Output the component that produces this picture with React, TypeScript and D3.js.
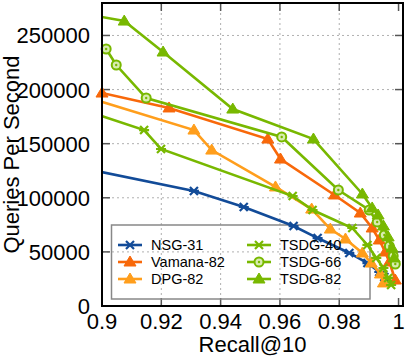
import React from "react";
import * as d3 from "d3";

const xTicks = [0.9, 0.92, 0.94, 0.96, 0.98, 1];
const xTickLabels = ["0.9", "0.92", "0.94", "0.96", "0.98", "1"];
const yTicks = [0, 50000, 100000, 150000, 200000, 250000];

const nsgRecall = [0.895, 0.931, 0.9478, 0.9646, 0.9727, 0.9834, 0.9895, 0.9935, 0.9952];
const nsgQps = [126600, 106300, 91500, 73900, 62800, 49000, 39700, 31400, 26800];

const vamanaRecall = [0.9, 0.9226, 0.9559, 0.9602, 0.9784, 0.9871, 0.9911, 0.9935, 0.9955, 0.9969, 0.9989];
const vamanaQps = [196800, 183000, 154300, 135800, 102600, 85900, 72100, 61000, 49900, 40700, 24000];

const dpgRecall = [0.895, 0.931, 0.937, 0.9585, 0.9707, 0.977, 0.9821, 0.9878, 0.9908, 0.9939, 0.9949];
const dpgQps = [192900, 162600, 144100, 110000, 89600, 71100, 61900, 49000, 39700, 29600, 21300];

const tsdg40Recall = [0.895, 0.9142, 0.9199, 0.9643, 0.971, 0.9844, 0.9895, 0.9925, 0.9949, 0.9965, 0.9975];
const tsdg40Qps = [180100, 162600, 145100, 101600, 88700, 72100, 56400, 44400, 35100, 25900, 19400];

const tsdg66Recall = [0.9014, 0.9048, 0.9149, 0.9606, 0.9797, 0.9901, 0.9928, 0.9952, 0.9969, 0.9982, 0.9989];
const tsdg66Qps = [237500, 222700, 192200, 156200, 107200, 88700, 77600, 65600, 55400, 46200, 38800];

const tsdg82Recall = [0.895, 0.9075, 0.9206, 0.9441, 0.9713, 0.9878, 0.9911, 0.9931, 0.9949, 0.9965, 0.9978, 0.9985];
const tsdg82Qps = [269500, 263300, 234700, 182000, 154300, 103500, 90600, 84100, 73900, 63800, 53600, 44400];

const seriesNames = ["NSG-31", "Vamana-82", "DPG-82", "TSDG-40", "TSDG-66", "TSDG-82"];
const seriesColors = ["#124b98", "#f8680a", "#ff9e1c", "#78b800", "#78b800", "#78b800"];
const seriesMarkers = ["star", "triangle", "triangle", "star", "circle", "triangle"];
const seriesRecall = [nsgRecall, vamanaRecall, dpgRecall, tsdg40Recall, tsdg66Recall, tsdg82Recall];
const seriesQps = [nsgQps, vamanaQps, dpgQps, tsdg40Qps, tsdg66Qps, tsdg82Qps];

const W = 407;
const H = 357;
const L = 102;
const R = 403;
const T = 3;
const B = 306;
const FONT = "'Liberation Sans', Arial, Helvetica, sans-serif";

function Marker({ type, x, y, color }: { type: string; x: number; y: number; color: string }) {
  if (type === "triangle") {
    return <path d={`M${x},${y - 6}L${x + 6},${y + 4}L${x - 6},${y + 4}Z`} fill={color} stroke={color} strokeWidth={1} />;
  }
  if (type === "circle") {
    return (
      <g>
        <circle cx={x} cy={y} r={4.5} fill="#d8ecb0" stroke={color} strokeWidth={2} />
        <circle cx={x} cy={y} r={1.2} fill={color} />
      </g>
    );
  }
  const s = 5;
  const d = 4;
  return (
    <path
      d={`M${x - s},${y}H${x + s}M${x - d},${y - d}L${x + d},${y + d}M${x - d},${y + d}L${x + d},${y - d}`}
      stroke={color}
      strokeWidth={2.2}
      fill="none"
    />
  );
}

export default function App() {
  const x = d3.scaleLinear().domain([0.9, 1.0015]).range([L, R]);
  const y = d3.scaleLinear().domain([0, 280000]).range([B, T]);
  const line = d3
    .line<[number, number]>()
    .x((d) => x(d[0]))
    .y((d) => y(d[1]));

  const legendRows = [245, 262, 279];
  const legendCols = [118, 247];

  return (
    <svg
      width={W}
      height={H}
      style={{ position: "absolute", left: 0, top: 0, background: "#fff" }}
      fontFamily={FONT}
    >
      <defs>
        <clipPath id="plotclip">
          <rect x={L} y={T} width={R - L} height={B - T} />
        </clipPath>
      </defs>
      <rect x={0} y={0} width={W} height={H} fill="#fff" />
      {xTicks.slice(1, -1).map((t) => (
        <line key={"gx" + t} x1={x(t)} x2={x(t)} y1={T} y2={B} stroke="#b0b0b0" strokeWidth={1} strokeDasharray="2,3" />
      ))}
      {yTicks.slice(1).map((t) => (
        <line key={"gy" + t} x1={L} x2={R} y1={y(t)} y2={y(t)} stroke="#b0b0b0" strokeWidth={1} strokeDasharray="2,3" />
      ))}
      {xTicks.map((t) => (
        <g key={"tx" + t}>
          <line x1={x(t)} x2={x(t)} y1={B} y2={B - 8} stroke="#555" strokeWidth={1.5} />
          <line x1={x(t)} x2={x(t)} y1={T} y2={T + 8} stroke="#555" strokeWidth={1.5} />
        </g>
      ))}
      {yTicks.map((t) => (
        <g key={"ty" + t}>
          <line x1={L} x2={L + 8} y1={y(t)} y2={y(t)} stroke="#555" strokeWidth={1.5} />
          <line x1={R} x2={R - 8} y1={y(t)} y2={y(t)} stroke="#555" strokeWidth={1.5} />
        </g>
      ))}
      <rect x={111.5} y={225} width={258.5} height={74} fill="none" stroke="#888" strokeWidth={1.5} />
      {seriesNames.map((name, i) => {
        const pts: [number, number][] = seriesRecall[i].map((r, j) => [r, seriesQps[i][j]]);
        return (
          <g key={name}>
            <path d={line(pts) || ""} fill="none" stroke={seriesColors[i]} strokeWidth={2.6} clipPath="url(#plotclip)" />
            {pts
              .filter((p) => p[0] >= 0.9)
              .map((p, j) => (
                <Marker key={j} type={seriesMarkers[i]} x={x(p[0])} y={y(p[1])} color={seriesColors[i]} />
              ))}
          </g>
        );
      })}
      <rect x={L} y={T} width={R - L} height={B - T} fill="none" stroke="#000" strokeWidth={2} />
      {xTicks.map((t, i) => (
        <text key={"lx" + t} x={x(t)} y={329} textAnchor="middle" fontSize={22} fill="#000">
          {xTickLabels[i]}
        </text>
      ))}
      {yTicks.map((t) => (
        <text key={"ly" + t} x={90} y={y(t) + 8} textAnchor="end" fontSize={22} fill="#000">
          {t}
        </text>
      ))}
      <text x={(L + R) / 2} y={352} textAnchor="middle" fontSize={22} fill="#000">
        Recall@10
      </text>
      <text transform={`translate(19,${(T + B) / 2}) rotate(-90)`} textAnchor="middle" fontSize={22} fill="#000">
        Queries Per Second
      </text>
      {seriesNames.map((name, i) => {
        const col = Math.floor(i / 3);
        const row = i % 3;
        const lx = legendCols[col];
        const ly = legendRows[row];
        return (
          <g key={"lg" + name}>
            <line x1={lx} x2={lx + 24} y1={ly} y2={ly} stroke={seriesColors[i]} strokeWidth={2.6} />
            <Marker type={seriesMarkers[i]} x={lx + 12} y={ly} color={seriesColors[i]} />
            <text x={lx + 33} y={ly + 5} fontSize={14.5} fill="#000">
              {name}
            </text>
          </g>
        );
      })}
    </svg>
  );
}
